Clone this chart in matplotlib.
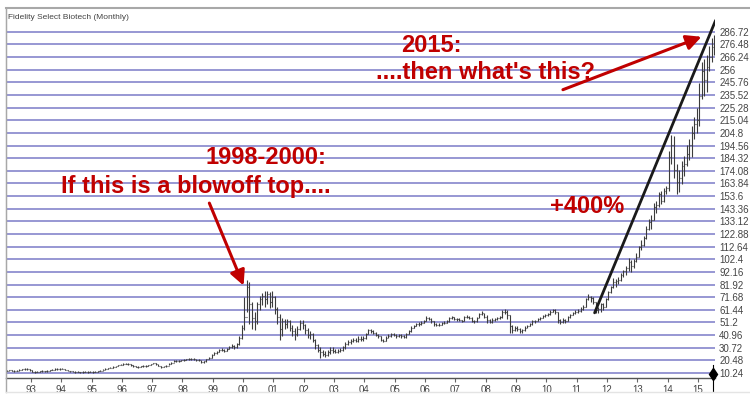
import numpy as np
import matplotlib.pyplot as plt
from matplotlib.lines import Line2D

# monthly bars, March 1992 .. July 2015
start_year, start_month = 1992, 3

close = [
    12.0, 12.4, 12.1, 11.8, 12.2, 12.6, 13.2, 13.8, 13.4, 12.5,                # 1992
    11.4, 11.0, 11.2, 11.5, 11.8, 11.6, 11.9, 12.4, 13.0, 13.5, 13.2, 13.4,    # 1993
    13.6, 12.8, 12.0, 11.6, 11.2, 11.0, 11.1, 10.9, 11.0, 11.3, 11.0, 11.2,    # 1994
    11.0, 11.3, 11.8, 12.2, 12.8, 13.4, 14.0, 14.6, 15.2, 15.8, 16.5, 17.0,    # 1995
    17.6, 17.9, 17.2, 16.8, 16.0, 15.5, 15.2, 15.6, 16.0, 15.8, 16.4, 17.2,    # 1996
    18.0, 17.6, 16.2, 15.0, 15.6, 16.3, 17.4, 18.6, 19.8, 20.2, 19.6, 20.4,    # 1997
    20.8, 21.2, 21.6, 21.2, 21.5, 21.0, 20.4, 18.8, 19.6, 21.4, 22.6, 24.8,    # 1998
    26.6, 27.4, 28.5, 29.2, 28.4, 29.8, 31.5, 32.2, 31.0, 33.5, 38.5, 47.0,    # 1999
    56.0, 80.0, 66.0, 55.0, 52.0, 66.0, 70.0, 73.0, 70.0, 74.0, 68.0, 72.0,    # 2000
    62.0, 56.0, 46.0, 52.0, 50.0, 52.0, 47.0, 44.0, 42.0, 46.0, 51.0, 49.0,    # 2001
    45.0, 41.0, 42.0, 37.0, 33.0, 29.0, 27.0, 26.0, 25.0, 27.0, 29.0, 28.0,    # 2002
    27.5, 28.0, 29.0, 31.0, 34.0, 35.0, 36.0, 37.0, 36.0, 38.0, 38.0, 38.5,    # 2003
    42.0, 45.0, 44.0, 43.0, 41.0, 40.0, 37.0, 36.5, 39.0, 40.0, 42.0, 41.0,    # 2004
    40.0, 41.0, 40.0, 39.5, 42.0, 44.0, 47.0, 48.5, 50.0, 50.0, 51.0, 52.0,    # 2005
    55.0, 54.0, 52.0, 50.0, 49.0, 49.5, 50.5, 51.0, 52.0, 54.5, 55.5, 54.0,    # 2006
    54.0, 53.0, 52.5, 55.5, 56.0, 55.0, 52.5, 52.0, 55.0, 58.0, 59.0, 56.0,    # 2007
    53.0, 51.5, 53.0, 54.0, 55.0, 55.5, 59.5, 60.0, 57.0, 48.0, 45.0, 47.0,    # 2008
    46.0, 44.0, 45.0, 47.0, 48.0, 50.0, 52.0, 52.5, 54.0, 55.0, 56.5, 57.0,    # 2009
    58.0, 60.0, 61.0, 59.5, 53.0, 51.5, 53.0, 52.5, 55.5, 57.0, 59.0, 59.5,    # 2010
    60.5, 62.5, 64.0, 70.0, 72.0, 71.0, 68.0, 61.0, 62.0, 66.0, 64.0, 70.0,    # 2011
    76.0, 80.0, 84.0, 84.5, 86.0, 90.0, 93.0, 95.0, 100.0, 97.0, 101.0, 104.0, # 2012
    112.0, 114.0, 120.0, 127.0, 133.0, 134.0, 145.0, 146.0, 155.0, 150.0, 158.0, 160.0,  # 2013
    185.0, 195.0, 175.0, 165.0, 168.0, 178.0, 180.0, 188.0, 195.0, 205.0, 212.0, 215.0,  # 2014
    235.0, 255.0, 248.0, 258.0, 266.0, 274.0, 280.0,                           # 2015
]

high = [
    12.8, 13.0, 12.8, 12.5, 12.8, 13.2, 13.8, 14.5, 14.2, 13.6,
    12.6, 11.8, 11.8, 12.1, 12.3, 12.2, 12.4, 12.9, 13.5, 14.0, 13.9, 13.9,
    14.1, 13.8, 12.9, 12.2, 11.8, 11.5, 11.6, 11.4, 11.5, 11.8, 11.6, 11.7,
    11.5, 11.8, 12.2, 12.7, 13.3, 13.9, 14.5, 15.1, 15.7, 16.3, 17.0, 17.5,
    18.2, 18.5, 18.1, 17.5, 17.0, 16.3, 16.0, 16.2, 16.6, 16.5, 17.0, 17.8,
    18.6, 18.4, 17.8, 16.3, 16.2, 16.9, 18.0, 19.2, 20.5, 21.0, 20.5, 21.0,
    21.5, 22.0, 22.3, 22.2, 22.1, 21.8, 21.2, 20.6, 20.3, 22.0, 23.5, 25.6,
    27.6, 28.4, 29.4, 30.2, 30.0, 30.6, 32.4, 33.4, 32.8, 34.6, 40.0, 49.0,
    72.0, 86.0, 84.0, 68.0, 60.0, 68.0, 73.0, 75.0, 77.0, 77.0, 76.0, 77.0,
    73.0, 64.0, 58.0, 55.0, 54.0, 54.0, 53.0, 49.0, 47.0, 48.0, 53.0, 53.0,
    50.0, 47.0, 44.0, 43.0, 38.0, 34.0, 31.0, 29.0, 28.0, 29.0, 31.0, 31.0,
    30.0, 29.5, 30.5, 32.0, 35.0, 37.0, 38.0, 39.0, 39.0, 40.0, 40.0, 40.0,
    43.0, 46.0, 46.0, 45.0, 43.5, 42.0, 40.5, 38.0, 40.0, 41.5, 43.0, 43.0,
    42.0, 42.0, 41.5, 41.0, 42.5, 45.0, 48.0, 49.5, 51.0, 51.5, 52.0, 53.0,
    56.6, 56.0, 54.5, 52.5, 51.0, 51.0, 51.5, 52.0, 53.0, 55.5, 56.6, 56.0,
    55.0, 55.0, 53.5, 56.5, 57.0, 56.5, 55.5, 53.5, 56.0, 59.0, 60.7, 59.0,
    57.0, 54.0, 54.5, 55.0, 56.0, 56.5, 61.0, 62.0, 61.0, 57.0, 49.0, 48.5,
    48.5, 47.0, 46.0, 48.0, 49.5, 51.0, 53.0, 53.5, 55.0, 56.0, 57.5, 58.0,
    59.0, 61.0, 62.0, 62.0, 60.0, 54.0, 54.5, 54.0, 56.5, 58.0, 60.0, 61.0,
    62.0, 63.5, 65.0, 71.0, 74.0, 73.0, 72.0, 68.0, 64.0, 67.0, 67.0, 71.0,
    77.0, 81.0, 87.0, 86.5, 88.0, 91.0, 94.0, 97.0, 103.5, 102.0, 103.0, 107.5,
    113.0, 118.0, 121.0, 129.0, 135.0, 138.0, 148.0, 150.0, 157.0, 158.0, 160.0, 162.0,
    190.0, 203.0, 202.0, 180.0, 175.0, 182.0, 186.0, 195.0, 200.0, 210.0, 218.0, 225.0,
    245.0, 262.0, 265.0, 268.0, 275.0, 282.0, 284.0,
]

low = [
    11.5, 11.8, 11.6, 11.3, 11.6, 12.0, 12.5, 13.0, 12.8, 11.9,
    11.0, 10.6, 10.7, 11.0, 11.3, 11.1, 11.4, 11.8, 12.4, 12.9, 12.7, 12.8,
    13.1, 12.5, 11.7, 11.2, 10.8, 10.6, 10.7, 10.5, 10.6, 10.9, 10.6, 10.8,
    10.6, 10.9, 11.3, 11.8, 12.3, 12.9, 13.5, 14.1, 14.7, 15.3, 15.9, 16.5,
    17.0, 17.2, 16.7, 16.2, 15.5, 14.9, 14.6, 15.0, 15.4, 15.2, 15.8, 16.6,
    17.2, 17.0, 15.8, 14.4, 14.8, 15.5, 16.8, 17.9, 19.0, 19.5, 19.0, 19.6,
    20.0, 20.5, 20.9, 20.6, 20.8, 20.3, 19.6, 18.0, 18.4, 19.4, 21.6, 22.5,
    24.5, 26.0, 27.2, 28.0, 27.6, 28.2, 29.6, 30.8, 30.0, 30.8, 33.0, 38.0,
    45.0, 60.0, 50.0, 46.0, 45.0, 50.0, 61.0, 65.0, 64.0, 66.0, 63.0, 64.0,
    58.0, 50.0, 37.0, 40.0, 46.0, 47.0, 44.0, 40.0, 37.0, 40.0, 45.0, 46.0,
    42.0, 39.0, 38.0, 35.0, 30.0, 27.0, 22.5, 24.0, 23.5, 24.0, 26.0, 26.5,
    26.5, 26.5, 27.0, 28.0, 30.0, 33.0, 34.0, 35.0, 35.0, 35.0, 36.0, 36.5,
    38.0, 41.5, 43.0, 41.5, 40.0, 38.5, 36.0, 35.0, 36.0, 38.5, 39.5, 40.0,
    39.0, 39.5, 39.0, 38.5, 39.0, 41.5, 43.5, 46.5, 48.0, 48.5, 49.5, 50.5,
    52.0, 53.0, 50.5, 48.5, 48.0, 48.5, 49.5, 50.0, 50.5, 51.5, 54.0, 53.0,
    52.5, 52.0, 51.5, 52.5, 55.0, 54.0, 51.5, 51.0, 51.5, 54.5, 57.5, 55.0,
    51.0, 50.5, 50.5, 52.5, 53.5, 54.0, 55.0, 58.0, 54.0, 43.0, 43.0, 44.0,
    44.0, 43.0, 43.0, 44.5, 46.5, 48.0, 49.5, 51.0, 52.0, 53.5, 54.5, 55.5,
    56.5, 57.5, 59.5, 58.0, 51.0, 50.0, 51.0, 51.0, 52.0, 55.0, 57.0, 58.0,
    58.5, 60.0, 61.5, 63.5, 69.5, 68.0, 66.0, 58.5, 58.5, 60.0, 61.5, 63.5,
    69.0, 75.0, 79.0, 80.0, 82.0, 85.0, 88.0, 90.0, 93.0, 92.0, 95.0, 100.0,
    104.0, 110.0, 113.0, 119.0, 126.0, 127.0, 134.0, 140.0, 145.0, 147.0, 149.0, 155.0,
    158.0, 180.0, 168.0, 155.0, 157.0, 163.0, 170.0, 178.0, 183.0, 185.0, 200.0, 205.0,
    210.0, 232.0, 235.0, 238.0, 255.0, 262.0, 268.0,
]

price_levels = [10.24, 20.48, 30.72, 40.96, 51.2, 61.44, 71.68, 81.92, 92.16, 102.4,
                112.64, 122.88, 133.12, 143.36, 153.6, 163.84, 174.08, 184.32, 194.56,
                204.8, 215.04, 225.28, 235.52, 245.76, 256, 266.24, 276.48, 286.72]
price_labels = ["10.24", "20.48", "30.72", "40.96", "51.2", "61.44", "71.68", "81.92",
                "92.16", "102.4", "112.64", "122.88", "133.12", "143.36", "153.6",
                "163.84", "174.08", "184.32", "194.56", "204.8", "215.04", "225.28",
                "235.52", "245.76", "256", "266.24", "276.48", "286.72"]
year_ticks = list(range(1993, 2016))
year_labels = ["93", "94", "95", "96", "97", "98", "99", "00", "01", "02", "03", "04",
               "05", "06", "07", "08", "09", "10", "11", "12", "13", "14", "15"]

# trend line from the 2011 low to mid-2015
trend_x = [2011.59, 2015.58]
trend_y = [59.0, 296.0]

red = "#c00000"
bar_color = "#3c3c3c"
grid_color = "#8585cc"

x = np.array([start_year + (start_month - 1 + i + 0.5) / 12 for i in range(len(close))])
c = np.array(close)
o = np.concatenate([[c[0]], c[:-1]])
w = 0.35 / 12

fig = plt.figure(figsize=(7.5, 4.07), dpi=100)
ax = fig.add_axes([6 / 750, 1 - 378 / 407, 709 / 750, 370 / 407])

ax.set_xlim(1992.18, 2015.56)
ax.set_ylim(6.2, 306)

for lv in price_levels:
    ax.axhline(lv, color=grid_color, lw=1.2, zorder=1)

ax.vlines(x, low, high, color=bar_color, lw=0.8, zorder=3)
ax.hlines(o, x - w, x, color=bar_color, lw=0.8, zorder=3)
ax.hlines(c, x, x + w, color=bar_color, lw=0.8, zorder=3)

ax.plot(trend_x, trend_y, color="#1a1a1a", lw=2.0, zorder=4, solid_capstyle="round")

ax.yaxis.tick_right()
ax.set_yticks(price_levels)
ax.set_yticklabels(price_labels, family="Liberation Sans")
ax.tick_params(axis="y", length=0, pad=3, labelsize=7, labelcolor="#444444")
ax.set_xticks(year_ticks)
ax.set_xticklabels(year_labels, family="Liberation Sans")
ax.tick_params(axis="x", length=3, width=0.8, color="#666666", pad=2,
               labelsize=7, labelcolor="#444444")

for s in ["top", "right"]:
    ax.spines[s].set_visible(False)
ax.spines["left"].set_color("#a0a0a0")
ax.spines["bottom"].set_color("#555555")
ax.spines["bottom"].set_linewidth(1.0)

# outer frame of the chart window
fig.add_artist(Line2D([6 / 750, 1.0], [1 - 8 / 407] * 2, color="#a8a8a8", lw=1.5))
fig.add_artist(Line2D([6 / 750] * 2, [1 - 392 / 407, 1 - 8 / 407], color="#a8a8a8", lw=1.0))
fig.add_artist(Line2D([6 / 750, 1.0], [1 - 392 / 407] * 2, color="#e4e4e4", lw=1.0))

ax.text(0.003, 0.985, "Fidelity Select Biotech (Monthly)", transform=ax.transAxes,
        fontsize=6, color="#444444", va="top", ha="left", family="Liberation Sans")

# last-bar marker under the axis
ax.plot([2015.48], [0.012], transform=ax.get_xaxis_transform(), marker="d",
        color="black", markersize=6, clip_on=False, zorder=5)
ax.plot([2015.48, 2015.48], [-0.035, 0.035], transform=ax.get_xaxis_transform(),
        color="black", lw=0.8, clip_on=False)

font = dict(family="Liberation Sans", fontsize=17, fontweight="bold", color=red)
ax.text(2006.2, 276, "2015:", ha="center", va="center", **font)
ax.text(2008.0, 254, "....then what's this?", ha="center", va="center", **font)
ax.text(2000.76, 185, "1998-2000:", ha="center", va="center", **font)
ax.text(1998.45, 161.5, "If this is a blowoff top....", ha="center", va="center", **font)
ax.text(2012.57, 145, "+400%", ha="right", va="center", **font)

arrow = dict(arrowstyle="-|>,head_length=0.9,head_width=0.45", color=red, lw=2.2)
ax.annotate("", xy=(2015.2, 283.5), xytext=(2010.46, 239), arrowprops=arrow)
ax.annotate("", xy=(2000.05, 79), xytext=(1998.85, 150), arrowprops=arrow)

fig.savefig("out.png", dpi=100)
